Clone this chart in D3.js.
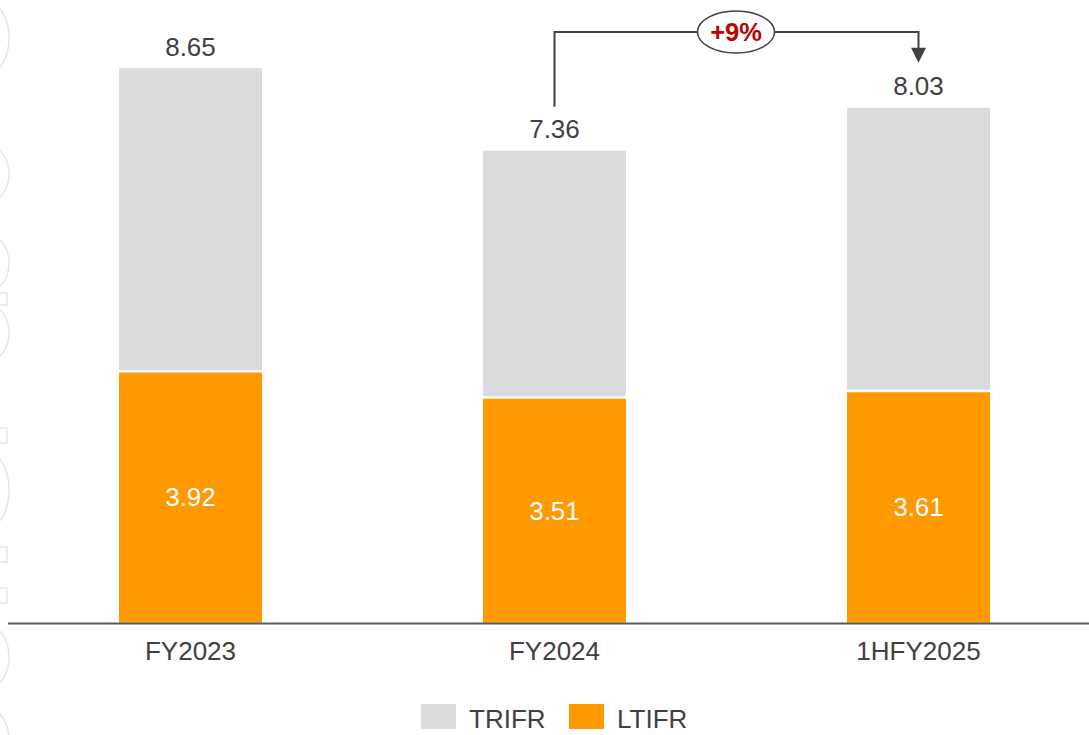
<!DOCTYPE html>
<html>
<head>
<meta charset="utf-8">
<script src="https://cdn.jsdelivr.net/npm/d3@7"></script>
<style>
  html, body { margin: 0; padding: 0; background: #ffffff; }
  svg { display: block; font-family: "Liberation Sans", Arial, sans-serif; }
</style>
</head>
<body>
<svg id="chart" width="1089" height="735"></svg>
<script>
// ---- data ----
const categories = ["FY2023", "FY2024", "1HFY2025"];
const trifr = [8.65, 7.36, 8.03];
const ltifr = [3.92, 3.51, 3.61];
const seriesNames = ["TRIFR", "LTIFR"];
const changeLabel = "+9%";
const changeFrom = "FY2024";
const changeTo = "1HFY2025";

// ---- styles ----
const GREY = "#DBDCDE", ORANGE = "#FF9900", TEXT = "#404040";
const FS = 26;
const W = 1089, H = 735;
const svg = d3.select("#chart");

// decorative background shapes at left edge
const deco = svg.append("g").attr("fill", "none").attr("stroke", "#e6e6e6").attr("stroke-width", 1.5);
[[38, 34], [174, 27], [263, 27], [333, 27], [490, 36], [657, 30], [740, 30]].forEach(([cy, ry]) => {
  deco.append("ellipse").attr("cx", -10).attr("cy", cy).attr("rx", 19).attr("ry", ry);
});
[[293, 12], [428, 15], [547, 15], [588, 15]].forEach(([y, h]) => {
  deco.append("rect").attr("x", -8).attr("y", y).attr("width", 15).attr("height", h);
});

// ---- scales ----
const baseline = 622.5;
const x = d3.scaleBand().domain(categories).range([-102, 1211]).padding(0.6071);
const y = d3.scaleLinear().domain([0, 10]).range([baseline, baseline - 641]);
const bw = x.bandwidth();

// grey TRIFR bars
svg.append("g").selectAll("rect").data(categories).join("rect")
  .attr("x", d => x(d)).attr("width", bw)
  .attr("y", (d, i) => y(trifr[i])).attr("height", (d, i) => y(0) - y(trifr[i]))
  .attr("fill", GREY);

// orange LTIFR bars
svg.append("g").selectAll("rect").data(categories).join("rect")
  .attr("x", d => x(d)).attr("width", bw)
  .attr("y", (d, i) => y(ltifr[i])).attr("height", (d, i) => y(0) - y(ltifr[i]))
  .attr("fill", ORANGE);
// white separator on top of orange bars
svg.append("g").selectAll("line").data(categories).join("line")
  .attr("x1", d => x(d)).attr("x2", d => x(d) + bw)
  .attr("y1", (d, i) => y(ltifr[i])).attr("y2", (d, i) => y(ltifr[i]))
  .attr("stroke", "#fff").attr("stroke-width", 2.5);

// value labels
svg.append("g").selectAll("text").data(categories).join("text")
  .attr("x", d => x(d) + bw / 2).attr("y", (d, i) => y(trifr[i]) - 12.5)
  .attr("text-anchor", "middle").attr("font-size", FS).attr("fill", TEXT)
  .text((d, i) => trifr[i].toFixed(2));
svg.append("g").selectAll("text").data(categories).join("text")
  .attr("x", d => x(d) + bw / 2).attr("y", (d, i) => (y(ltifr[i]) + y(0)) / 2 + 9.5)
  .attr("text-anchor", "middle").attr("font-size", FS).attr("fill", "#fff")
  .text((d, i) => ltifr[i].toFixed(2));

// axis
const axisG = svg.append("g").attr("transform", `translate(0,${baseline + 1})`)
  .call(d3.axisBottom(x).tickSize(0).tickPadding(18.5));
axisG.select(".domain").remove();
axisG.selectAll("text").attr("font-size", FS).attr("fill", TEXT)
  .attr("font-family", '"Liberation Sans", Arial, sans-serif');
svg.append("line").attr("x1", 8).attr("x2", W).attr("y1", baseline + 1).attr("y2", baseline + 1)
  .attr("stroke", "#595959").attr("stroke-width", 2);

// change annotation
const i0 = categories.indexOf(changeFrom), i1 = categories.indexOf(changeTo);
const xa = x(changeFrom) + bw / 2, xb = x(changeTo) + bw / 2;
const topY = 32;
const ya = y(trifr[i0]) - 44, yb = y(trifr[i1]) - 45;
svg.append("path")
  .attr("d", `M${xa},${ya} V${topY} H${xb} V${yb - 14}`)
  .attr("fill", "none").attr("stroke", TEXT).attr("stroke-width", 2);
svg.append("path")
  .attr("d", `M${xb - 7.5},${yb - 15} L${xb + 7.5},${yb - 15} L${xb},${yb} Z`)
  .attr("fill", TEXT);
const ex = 736;
svg.append("ellipse").attr("cx", ex).attr("cy", topY).attr("rx", 38.5).attr("ry", 21)
  .attr("fill", "#fff").attr("stroke", TEXT).attr("stroke-width", 1.5);
svg.append("text").attr("x", ex).attr("y", topY + 9).attr("text-anchor", "middle")
  .attr("font-size", 25.5).attr("font-weight", "bold").attr("fill", "#C00000")
  .text(changeLabel);

// legend
const legendColors = [GREY, ORANGE];
const legendX = [421, 569];
const lg = svg.append("g").selectAll("g").data(seriesNames).join("g")
  .attr("transform", (d, i) => `translate(${legendX[i]},704)`);
lg.append("rect").attr("width", 35).attr("height", 25).attr("fill", (d, i) => legendColors[i]);
lg.append("text").attr("x", 48).attr("y", 23.5).attr("font-size", FS).attr("fill", TEXT).text(d => d);
</script>
</body>
</html>
